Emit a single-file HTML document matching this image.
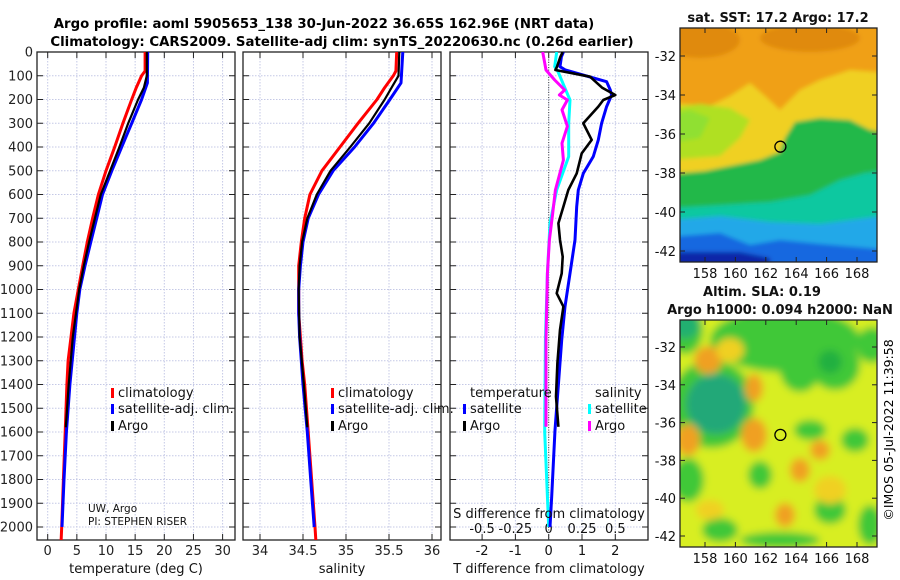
<!DOCTYPE html>
<html><head><meta charset="utf-8">
<style>
html,body{margin:0;padding:0;background:#fff;}
svg{display:block;font-family:"DejaVu Sans","Liberation Sans",sans-serif;}
</style></head>
<body>
<svg id="fig" width="900" height="580" viewBox="0 0 900 580" xmlns="http://www.w3.org/2000/svg">
<defs>
<clipPath id="c1"><rect x="37" y="52" width="198" height="488"/></clipPath>
<clipPath id="c2"><rect x="243" y="52" width="198" height="488"/></clipPath>
<clipPath id="c3"><rect x="450" y="52" width="198" height="488"/></clipPath>
<clipPath id="m1"><rect x="680" y="28" width="197" height="234"/></clipPath>
<clipPath id="m2"><rect x="680" y="320" width="197" height="227"/></clipPath>
<filter id="bl1" x="-10%" y="-10%" width="120%" height="120%"><feGaussianBlur stdDeviation="2"/></filter>
<filter id="bl2" x="-20%" y="-20%" width="140%" height="140%"><feGaussianBlur stdDeviation="4"/></filter>
</defs>
<text x="324" y="28" font-size="13.3" font-weight="bold" text-anchor="middle">Argo profile: aoml 5905653_138 30-Jun-2022 36.65S 162.96E (NRT data)</text>
<text x="342" y="46" font-size="13.3" font-weight="bold" text-anchor="middle">Climatology: CARS2009. Satellite-adj clim: synTS_20220630.nc (0.26d earlier)</text>
<g id="plots"></g>
<g id="maps"></g>
<text transform="translate(893,430) rotate(-90)" font-size="12.5" text-anchor="middle">©IMOS 05-Jul-2022 11:39:58</text>
</svg>
<script>
// ---- data ----
const climDepths = [0,80,100,150,200,300,400,500,600,700,800,900,1000,1100,1200,1300,1400,1600,1800,2000,2060];
const climT = [16.7,16.7,16.1,15.2,14.4,12.9,11.5,10.0,8.7,7.7,6.8,6.0,5.25,4.5,4.0,3.5,3.3,3.0,2.7,2.4,2.3];
const climS = [35.59,35.58,35.55,35.45,35.36,35.14,34.93,34.72,34.58,34.52,34.48,34.45,34.45,34.45,34.47,34.49,34.52,34.56,34.6,34.64,34.65];
const satDepths = [0,130,200,300,400,500,600,700,800,900,1000,1100,1200,1300,1400,1600,1800,2000];
const satT = [17.15,17.1,16.1,14.4,12.7,11.0,9.4,8.4,7.4,6.4,5.5,5.0,4.6,4.2,3.8,3.2,2.8,2.45];
const satS = [35.66,35.64,35.51,35.32,35.10,34.85,34.68,34.56,34.50,34.47,34.45,34.45,34.46,34.48,34.5,34.55,34.59,34.63];
const argoDepths = [0,100,150,200,300,400,500,600,700,800,900,1000,1200,1400,1580];
const argoT = [17.0,17.0,16.5,15.5,13.8,12.3,10.7,9.1,8.1,7.1,6.2,5.4,4.3,3.6,3.1];
const argoS = [35.62,35.61,35.53,35.45,35.27,35.05,34.82,34.66,34.55,34.49,34.46,34.45,34.46,34.51,34.55];
const satDTDepths = [0,20,62,76,125,160,181,230,300,370,440,511,581,651,791,932,1072,1213,1592,1872,2000];
const satDT = [0.44,0.38,0.34,0.5,1.74,1.85,1.89,1.74,1.59,1.49,1.34,1.04,0.89,0.84,0.79,0.64,0.49,0.39,0.19,0.09,0.04];
const argoDTDepths = [0,20,62,76,104,150,181,202,230,300,370,427,511,581,651,721,791,862,932,1016,1072,1170,1310,1451,1578];
const argoDT = [0.42,0.35,0.25,0.2,1.24,1.6,2.0,1.64,1.49,1.04,1.29,0.99,0.84,0.59,0.44,0.29,0.34,0.42,0.39,0.24,0.44,0.34,0.26,0.22,0.29];
const satDSDepths = [0,62,83,202,300,440,581,721,932,1213,1600,2000];
const satDS = [0.06,0.045,0.07,0.16,0.15,0.15,0.06,0.01,-0.01,-0.025,-0.03,0];
const argoDSDepths = [0,76,118,160,181,202,244,313,384,455,581,679,791,932,1213,1578];
const argoDS = [-0.045,-0.02,0.045,0.12,0.08,0.14,0.1,0.14,0.1,0.11,0.05,0.03,0.005,-0.01,-0.02,-0.02];
const depthTicks = [0,100,200,300,400,500,600,700,800,900,1000,1100,1200,1300,1400,1500,1600,1700,1800,1900,2000];
const tTicks = [0,5,10,15,20,25,30];
const sTicks = [34,34.5,35,35.5,36];
const dTTicks = [-2,-1,0,1,2];
const dSTicks = [-0.5,-0.25,0,0.25,0.5];
const dSTickLabels = ["-0.5","-0.25","0","0.25","0.5"];
const lonTicks = [158,160,162,164,166,168];
const latTicks = [-32,-34,-36,-38,-40,-42];
const floatLon = 162.96, floatLat = -36.65;

// ---- scales ----
const NS="http://www.w3.org/2000/svg";
const yD = d => 52 + d*0.2375;
const xT = t => 47.7 + t*5.83;
const xS = s => 260 + (s-34)*86;
const xDT = t => 548.7 + t*33.3;
const xDS = s => 548.7 + s*133.3;
const lonX = lon => 705 + (lon-158)*15.2;
const lat1Y = lat => 56 + (-32-lat)*19.5;
const lat2Y = lat => 347 + (-32-lat)*18.9;

function el(tag, attrs, parent){const e=document.createElementNS(NS,tag);for(const k in attrs)e.setAttribute(k,attrs[k]);parent.appendChild(e);return e;}
const plots=document.getElementById('plots');
const maps=document.getElementById('maps');

function panel(x0, name, xs, ticks, labels, showY){
  const g=el('g',{},plots);
  
  
  ticks.forEach((t,i)=>{
    const x=xs(t);
    const gl=el('line',{x1:x,x2:x,y1:52,y2:540,stroke:'#c4c8e6','stroke-width':1,'stroke-dasharray':'1.5,1.5'},g);
    
    
    el('line',{x1:x,x2:x,y1:540,y2:534,stroke:'#222'},g);
    el('line',{x1:x,x2:x,y1:52,y2:58,stroke:'#222'},g);
  });
  depthTicks.forEach(d=>{
    const y=yD(d);
    const gl=el('line',{x1:x0,x2:x0+198,y1:y,y2:y,stroke:'#c4c8e6','stroke-width':1,'stroke-dasharray':'1.5,1.5'},g);
    
    
    el('line',{x1:x0,x2:x0+6,y1:y,y2:y,stroke:'#222'},g);
    el('line',{x1:x0+198,x2:x0+192,y1:y,y2:y,stroke:'#222'},g);
    if(showY){const t=el('text',{x:x0-4,y:y+4.5,'font-size':13,'text-anchor':'end',fill:'#222'},g);t.textContent=d;
      
      }
  });
  if(labels){ticks.forEach((t,i)=>{const tx=el('text',{x:xs(t),y:555,'font-size':13,'text-anchor':'middle',fill:'#222'},g);tx.textContent=labels[i];
    
    });}
  const b=el('rect',{x:x0,y:52,width:198,height:488,fill:'none',stroke:'#222','stroke-width':1.3},g);
  
  
  return g;
}
function line(g, clip, depths, vals, xs, color, name, w){
  const pts=depths.map((d,i)=>xs(vals[i]).toFixed(1)+','+yD(d).toFixed(1)).join(' ');
  const p=el('polyline',{points:pts,fill:'none',stroke:color,'stroke-width':w||3,'stroke-linejoin':'round','clip-path':'url(#'+clip+')'},g);
  
  
}
function label(g,x,y,txt,name,size,anchor){const t=el('text',{x:x,y:y,'font-size':size||13,'text-anchor':anchor||'start',fill:'#111'},g);t.textContent=txt;
  
  return t;}
function legendMark(g,x,y,color,name){const r=el('rect',{x:x,y:y-9,width:3,height:10,fill:color},g);
  
  }

// panel 1 temperature
const p1=panel(37,'temperature',xT,tTicks,tTicks.map(String),true);
line(p1,'c1',climDepths,climT,xT,'#ff0000','climatology-temperature-line');
line(p1,'c1',satDepths,satT,xT,'#0000ff','satellite-temperature-line');
line(p1,'c1',argoDepths,argoT,xT,'#000000','argo-temperature-line',2.2);
label(p1,136,573,'temperature (deg C)','temperature-axis-title',13,'middle');
legendMark(p1,111,397,'#ff0000','legend-climatology-mark');label(p1,118,397,'climatology','legend-climatology');
legendMark(p1,111,413,'#0000ff','legend-satellite-mark');label(p1,118,413,'satellite-adj. clim.','legend-satellite');
legendMark(p1,111,430,'#000000','legend-argo-mark');label(p1,118,430,'Argo','legend-argo');
label(p1,88,512,'UW, Argo','institution-label',10.5);
label(p1,88,525,'PI: STEPHEN RISER','pi-label',10.5);

// panel 2 salinity
const p2=panel(243,'salinity',xS,sTicks,["34","34.5","35","35.5","36"],false);
line(p2,'c2',climDepths,climS,xS,'#ff0000','climatology-salinity-line');
line(p2,'c2',satDepths,satS,xS,'#0000ff','satellite-salinity-line');
line(p2,'c2',argoDepths,argoS,xS,'#000000','argo-salinity-line',2.2);
label(p2,342,573,'salinity','salinity-axis-title',13,'middle');
legendMark(p2,331,397,'#ff0000','legend-climatology-mark');label(p2,338,397,'climatology','legend-climatology');
legendMark(p2,331,413,'#0000ff','legend-satellite-mark');label(p2,338,413,'satellite-adj. clim.','legend-satellite');
legendMark(p2,331,430,'#000000','legend-argo-mark');label(p2,338,430,'Argo','legend-argo');

// panel 3 differences
const p3=panel(450,'difference',xDT,dTTicks,null,false);
dTTicks.forEach(t=>{label(p3,xDT(t),555,String(t),'dt-tick-label',13,'middle');});
dSTicks.forEach((s,i)=>{label(p3,xDS(s),533,dSTickLabels[i],'ds-tick-label',13,'middle');});
const zl=el('line',{x1:xDT(0),x2:xDT(0),y1:52,y2:540,stroke:'#444','stroke-width':1,'stroke-dasharray':'1,1.5'},p3);


line(p3,'c3',satDSDepths,satDS,xDS,'#00ffff','satellite-salinity-diff-line');
line(p3,'c3',argoDSDepths,argoDS,xDS,'#ff00ff','argo-salinity-diff-line');
line(p3,'c3',satDTDepths,satDT,xDT,'#0000ff','satellite-temperature-diff-line');
line(p3,'c3',argoDTDepths,argoDT,xDT,'#000000','argo-temperature-diff-line',2.6);
label(p3,549,518,'S difference from climatology','s-diff-axis-title',13,'middle');
label(p3,549,573,'T difference from climatology','t-diff-axis-title',13,'middle');
label(p3,470,397,'temperature','legend-temperature-header');
legendMark(p3,463,413,'#0000ff','legend-t-satellite-mark');label(p3,470,413,'satellite','legend-t-satellite');
legendMark(p3,463,430,'#000000','legend-t-argo-mark');label(p3,470,430,'Argo','legend-t-argo');
label(p3,595,397,'salinity','legend-salinity-header');
legendMark(p3,588,413,'#00ffff','legend-s-satellite-mark');label(p3,595,413,'satellite','legend-s-satellite');
legendMark(p3,588,430,'#ff00ff','legend-s-argo-mark');label(p3,595,430,'Argo','legend-s-argo');

// ---- maps ----
function mapAxes(g, top, h, latY){
  lonTicks.forEach(l=>{const x=lonX(l);
    el('line',{x1:x,x2:x,y1:top+h,y2:top+h-5,stroke:'#222'},g);
    el('line',{x1:x,x2:x,y1:top,y2:top+5,stroke:'#222'},g);
    label(g,x,top+h+16,String(l),'lon-tick-label',13,'middle');});
  latTicks.forEach(l=>{const y=latY(l);
    el('line',{x1:680,x2:685,y1:y,y2:y,stroke:'#222'},g);
    el('line',{x1:877,x2:872,y1:y,y2:y,stroke:'#222'},g);
    label(g,676,y+5,String(l),'lat-tick-label',13,'end');});
  const b=el('rect',{x:680,y:top,width:197,height:h,fill:'none',stroke:'#222','stroke-width':1.3},g);
  
  
}
function poly(g,pts,fill,ox,oy){return el('polygon',{points:pts.map(q=>(q[0]+ox)+','+(q[1]+oy)).join(' '),fill:fill},g);}
function blob(g,cx,cy,rx,ry,fill,ox,oy){return el('ellipse',{cx:cx+ox,cy:cy+oy,rx:rx,ry:ry,fill:fill},g);}

// SST map
const g1=el('g',{},maps);


const s1=el('g',{'clip-path':'url(#m1)'},g1);
const s1b=el('g',{filter:'url(#bl1)'},s1);
el('rect',{x:670,y:18,width:220,height:260,fill:'#f0a018'},s1b);
blob(s1b,20,12,40,18,'#e08a10',680,28);blob(s1b,130,10,50,14,'#e08a10',680,28);
poly(s1b,[[-10,75],[30,78],[50,68],[70,55],[85,68],[100,82],[120,62],[140,52],[170,42],[210,45],[210,250],[-10,250]],'#f0d020',680,28);
poly(s1b,[[-10,80],[20,76],[50,80],[70,92],[60,110],[40,128],[-10,132]],'#b0e020',680,28);
poly(s1b,[[-10,87],[10,82],[30,90],[20,110],[-10,115]],'#90e030',680,28);
poly(s1b,[[210,105],[190,102],[170,92],[140,90],[115,94],[105,110],[100,124],[80,132],[50,138],[25,143],[-10,146],[-10,250],[210,250]],'#22b848',680,28);
poly(s1b,[[-10,180],[40,177],[90,174],[130,167],[160,152],[185,145],[210,142],[210,250],[-10,250]],'#10c8a0',680,28);
poly(s1b,[[-10,192],[40,188],[90,194],[140,196],[210,187],[210,250],[-10,250]],'#20a8e8',680,28);
poly(s1b,[[-10,209],[40,205],[70,217],[100,212],[140,216],[210,222],[210,250],[-10,250]],'#1868e0',680,28);
poly(s1b,[[-10,224],[60,224],[90,230],[90,250],[-10,250]],'#0828a8',680,28);
const c1=el('circle',{cx:lonX(floatLon),cy:lat1Y(floatLat),r:5.5,fill:'none',stroke:'#000','stroke-width':1.3},g1);


mapAxes(g1,28,234,lat1Y);
label(g1,778,22,'sat. SST: 17.2 Argo: 17.2','sst-map-title',13,'middle').setAttribute('font-weight','bold');

// SLA map
const g2=el('g',{},maps);


const s2=el('g',{'clip-path':'url(#m2)'},g2);
const s2b=el('g',{filter:'url(#bl2)'},s2);
el('rect',{x:670,y:310,width:220,height:250,fill:'#d8ee20'},s2b);
[[105,20,75,32],[120,50,20,22],[155,45,25,25],[192,25,16,18],[32,84,42,44],[8,160,16,22],[80,155,12,14],[150,190,16,14],[40,210,18,12],[175,120,14,12],[130,110,16,10],[5,10,18,24],[100,220,40,8],[190,205,12,20]].forEach(b=>blob(s2b,b[0],b[1],b[2],b[3],'#40c838',680,320));
blob(s2b,5,5,14,14,'#20b070',680,320);
blob(s2b,36,84,30,30,'#22a878',680,320);
blob(s2b,150,42,12,12,'#20b040',680,320);
[[8,120,12,16],[74,68,9,14],[74,115,13,17],[28,40,14,14],[120,150,10,12],[105,195,10,12],[140,130,10,10]].forEach(b=>blob(s2b,b[0],b[1],b[2],b[3],'#f0a020',680,320));
[[50,30,14,12],[150,170,16,14],[30,190,14,10]].forEach(b=>blob(s2b,b[0],b[1],b[2],b[3],'#f0d020',680,320));
const c2=el('circle',{cx:lonX(floatLon),cy:lat2Y(floatLat),r:5.5,fill:'none',stroke:'#000','stroke-width':1.3},g2);


mapAxes(g2,320,227,lat2Y);
label(g2,762,296,'Altim. SLA: 0.19','sla-map-title',13,'middle').setAttribute('font-weight','bold');
label(g2,780,314,'Argo h1000: 0.094 h2000: NaN','sla-map-subtitle',13,'middle').setAttribute('font-weight','bold');
</script>
</body></html>
